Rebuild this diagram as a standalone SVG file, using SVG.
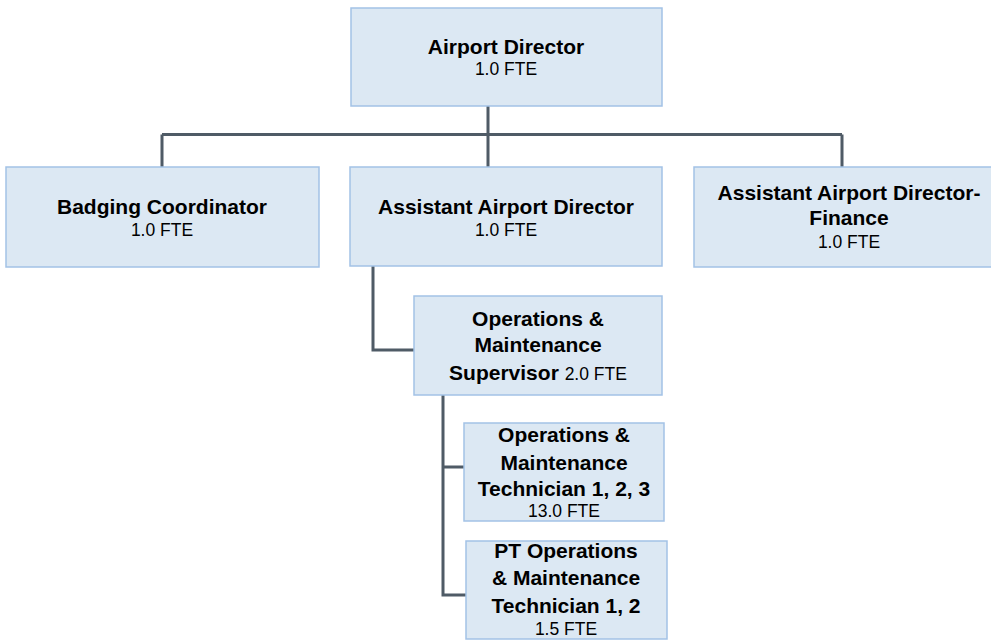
<svg xmlns="http://www.w3.org/2000/svg" width="991" height="640" viewBox="0 0 991 640">
<style>
.box{fill:#dce8f3;stroke:#a3c2e6;stroke-width:1.5}
.b{font-family:"Liberation Sans",Arial,sans-serif;font-weight:bold;font-size:21px;fill:#000;text-anchor:middle}
.r{font-family:"Liberation Sans",Arial,sans-serif;font-size:17.5px;fill:#000;text-anchor:middle}
.c{fill:none;stroke:#4f5b66;stroke-width:3}
</style>
<rect width="991" height="640" fill="#fff"/>
<g id="connectors">
<path class="c" d="M488,106 V134.5 M162,134.5 H842 M162,134.5 V167 M488,134.5 V167 M842,134.5 V167"/>
<path class="c" d="M373,266 V350 H414"/>
<path class="c" d="M443,395 V595 H466 M443,467 H464"/>
</g>
<g id="airport-director">
<rect class="box" x="351" y="8" width="311" height="98"/>
<text class="b" x="506" y="54">Airport Director</text>
<text class="r" x="506" y="75">1.0 FTE</text>
</g>
<g id="badging-coordinator">
<rect class="box" x="6" y="167" width="313" height="100"/>
<text class="b" x="162" y="214">Badging Coordinator</text>
<text class="r" x="162" y="236">1.0 FTE</text>
</g>
<g id="assistant-airport-director">
<rect class="box" x="350" y="167" width="312" height="99"/>
<text class="b" x="506" y="214">Assistant Airport Director</text>
<text class="r" x="506" y="236">1.0 FTE</text>
</g>
<g id="assistant-airport-director-finance">
<rect class="box" x="694" y="167" width="311" height="100"/>
<text class="b" x="849" y="200">Assistant Airport Director-</text>
<text class="b" x="849" y="225">Finance</text>
<text class="r" x="849" y="248">1.0 FTE</text>
</g>
<g id="ops-maintenance-supervisor">
<rect class="box" x="414" y="296" width="248" height="99"/>
<text class="b" x="538" y="326">Operations &amp;</text>
<text class="b" x="538" y="352">Maintenance</text>
<text x="538" y="380" class="b">Supervisor <tspan style="font-weight:normal;font-size:17.5px">2.0 FTE</tspan></text>
</g>
<g id="ops-maintenance-technician">
<rect class="box" x="464" y="423" width="200" height="98"/>
<text class="b" x="564" y="442">Operations &amp;</text>
<text class="b" x="564" y="470">Maintenance</text>
<text class="b" x="564" y="496">Technician 1, 2, 3</text>
<text class="r" x="564" y="517">13.0 FTE</text>
</g>
<g id="pt-ops-maintenance-technician">
<rect class="box" x="466" y="541" width="201" height="98"/>
<text class="b" x="566" y="558">PT Operations</text>
<text class="b" x="566" y="585">&amp; Maintenance</text>
<text class="b" x="566" y="613">Technician 1, 2</text>
<text class="r" x="566" y="635">1.5 FTE</text>
</g>
</svg>
